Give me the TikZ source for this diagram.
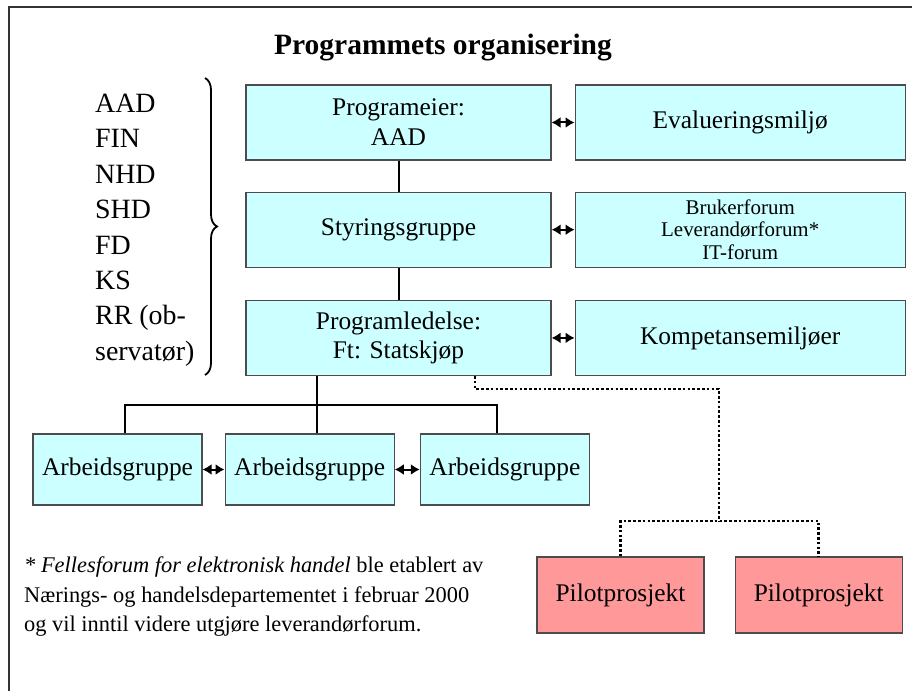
\documentclass[tikz,border=0pt]{standalone}
\usepackage{fontspec}
\setmainfont{Liberation Serif}
\usetikzlibrary{arrows.meta,positioning,decorations.pathreplacing}
\definecolor{boxcyan}{RGB}{204,255,255}
\definecolor{boxpink}{RGB}{255,153,153}

\begin{document}
\begin{tikzpicture}[x=1bp, y=-1bp,
    unit/.style={draw=black!70, line width=1.2bp, fill=boxcyan, align=center, inner sep=0pt,
      minimum width=305bp, minimum height=75bp, font=\fontsize{25.5}{30}\selectfont},
    side/.style={unit, minimum width=330bp},
    group/.style={unit, minimum width=169bp, minimum height=71bp},
    pilot/.style={unit, fill=boxpink, minimum width=167bp, minimum height=76bp},
    link/.style={line width=2bp},
    dotlink/.style={line width=2.6bp, dash pattern=on 2.6bp off 2.2bp},
    twoway/.style={{Latex[length=9bp,width=11bp]}-{Latex[length=9bp,width=11bp]}, line width=2bp},
    curly/.style={decorate, decoration={brace, amplitude=12bp}, line width=1.8bp}
  ]
    \useasboundingbox (0,0) rectangle (912,691);
    \draw[line width=2bp, black!80] (9,691) -- (9,7) -- (912,7);

    \node[font=\fontsize{29.6}{34}\selectfont\bfseries] (title) at (443,48) {Programmets organisering};

    % hovedkolonne og sidebokser
    \node[unit] (eier) at (398.5,122.5) {Programeier:\\AAD};
    \node[side, right=23bp of eier] (eval) {Evalueringsmiljø};
    \node[unit, below=31bp of eier] (styr) {Styringsgruppe};
    \node[side, right=23bp of styr, font=\fontsize{21}{23}\selectfont] (forum)
      {Brukerforum\\Leverandørforum*\\IT-forum};
    \node[unit, below=32bp of styr] (ledelse) {Programledelse:\\Ft: Statskjøp};
    \node[side, right=23bp of ledelse] (komp) {Kompetansemiljøer};

    \draw[link] (eier) -- (styr);
    \draw[link] (styr) -- (ledelse);
    \draw[twoway] (eier) -- (eval);
    \draw[twoway] (styr) -- (forum);
    \draw[twoway] (ledelse) -- (komp);

    % arbeidsgrupper
    \node[group] (ag1) at (117.5,469.5) {Arbeidsgruppe};
    \node[group, right=22bp of ag1] (ag2) {Arbeidsgruppe};
    \node[group, right=25bp of ag2] (ag3) {Arbeidsgruppe};
    \draw[twoway] (ag1) -- (ag2);
    \draw[twoway] (ag2) -- (ag3);

    \coordinate (t1) at (125,405);
    \coordinate (t2) at (317,405);
    \coordinate (t3) at (497,405);
    \draw[link] (ag1.north -| t1) |- (t3) -- (ag3.north -| t3);
    \draw[link] (ledelse.south -| t2) -- (ag2.north -| t2);

    % pilotprosjekter
    \node[pilot] (pilot1) at (620.5,595) {Pilotprosjekt};
    \node[pilot, right=30bp of pilot1] (pilot2) {Pilotprosjekt};

    \coordinate (d1) at (475,389);
    \coordinate (d2) at (719,521);
    \draw[dotlink] (ledelse.south -| d1) |- (d2 |- d1) -- (d2);
    \draw[dotlink] (pilot1.north) -- (pilot1.north |- d2) -- (pilot2.north |- d2) -- (pilot2.north);

    % deltakere
    \node[anchor=north west, inner sep=0pt, align=left, font=\fontsize{28}{35.5}\selectfont] (members)
      at (95,94) {AAD\\FIN\\NHD\\SHD\\FD\\KS\\RR (ob-\\servatør)};
    \draw[curly] (205,78) -- (205,375);

    \node[anchor=north west, inner sep=0pt, align=left, font=\fontsize{22.5}{29.5}\selectfont] (note)
      at (24,557) {\textit{* Fellesforum for elektronisk handel} ble etablert av\\
      Nærings- og handelsdepartementet i februar 2000\\
      og vil inntil videre utgjøre leverandørforum.};
  \end{tikzpicture}
\end{document}
